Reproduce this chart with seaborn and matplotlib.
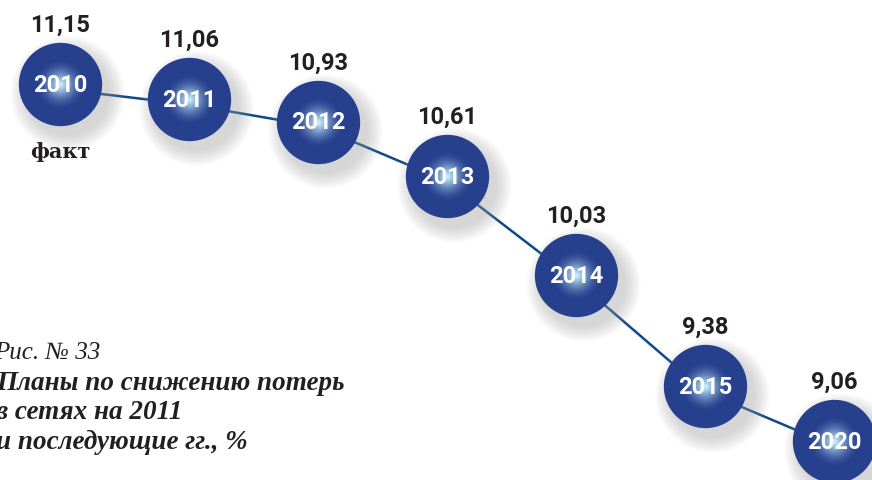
#--> Importing required libraries
import numpy as np
import pandas as pd
import matplotlib
matplotlib.use("Agg")
import matplotlib.pyplot as plt
import matplotlib.transforms as mtransforms
from matplotlib.colors import to_rgb
import seaborn as sns

##--> Data <--##
years = ["2010", "2011", "2012", "2013", "2014", "2015", "2020"]
losses = [11.15, 11.06, 10.93, 10.61, 10.03, 9.38, 9.06]
note_first = "факт"
caption_num = "Рис. № 33"
caption_lines = ["Планы по снижению потерь", "в сетях на 2011", "и последующие гг., %"]

df = pd.DataFrame({"year": years, "loss": losses, "pos": np.arange(len(years))})

##--> Style <--##
sns.set_style("white")
plt.rcParams["font.family"] = ["Roboto", "DejaVu Sans"]

ball = "#27408e"
glow = "#c4ecfb"
line_col = "#0d4a86"
text_col = "#231f20"

fig = plt.figure(figsize=(8.72, 4.81), dpi=100)
ax = fig.add_axes([0, 0, 1, 1])
ax.set_xlim(-0.465, 6.295)
ax.set_ylim(8.832, 11.648)
ax.axis("off")

#-> connecting line (behind the balls)
line_tr = mtransforms.offset_copy(ax.transData, fig=fig, x=0, y=-5, units="dots")
sns.lineplot(data=df, x="pos", y="loss", ax=ax, color=line_col, lw=1.8,
             sort=False, zorder=1, transform=line_tr)

#-> soft shadows
d = 60  # ball diameter in points
for k in range(8):
    tr = mtransforms.offset_copy(ax.transData, fig=fig, x=7, y=-9, units="dots")
    ax.scatter(df["pos"], df["loss"], s=(d + 22 - k * 3) ** 2, color="#9a9a9a",
               alpha=0.06, lw=0, zorder=2, transform=tr)

#-> balls
sns.scatterplot(data=df, x="pos", y="loss", ax=ax, s=d ** 2, color=ball,
                linewidth=0, zorder=3, legend=False)

#-> radial glow in the centre
b = np.array(to_rgb(ball))
g = np.array(to_rgb(glow))
n = 14
for i, frac in enumerate(np.linspace(0.62, 0.06, n)):
    t = (i / (n - 1)) ** 1.6
    c = b + (g - b) * t
    ax.scatter(df["pos"], df["loss"], s=(d * frac) ** 2, color=c, lw=0,
               alpha=0.9, zorder=4)

##--> Labels <--##
for _, r in df.iterrows():
    ax.text(r["pos"], r["loss"], r["year"], color="white", fontsize=17,
            fontweight="bold", ha="center", va="center", zorder=6)
    ax.annotate(f"{r['loss']:.2f}".replace(".", ","), (r["pos"], r["loss"]),
                xytext=(0, 43), textcoords="offset points", ha="center",
                va="center", fontsize=17, fontweight="bold", color=text_col)

ax.annotate(note_first, (df["pos"][0], df["loss"][0]), xytext=(0, -48),
            textcoords="offset points", ha="center", va="center", fontsize=15,
            fontweight="bold", color=text_col, family=["DejaVu Serif"])

#-> caption in the lower left corner
fig.text(-6 / 872, 1 - 359 / 481, caption_num, fontsize=18, style="italic",
         color=text_col, family=["Liberation Serif"], va="baseline")
for j, s in enumerate(caption_lines):
    fig.text(-4 / 872, 1 - (390 + 29.5 * j) / 481, s, fontsize=19.5,
             style="italic", fontweight="bold", color=text_col,
             family=["Liberation Serif"], va="baseline")

fig.savefig("out.png", dpi=100)
